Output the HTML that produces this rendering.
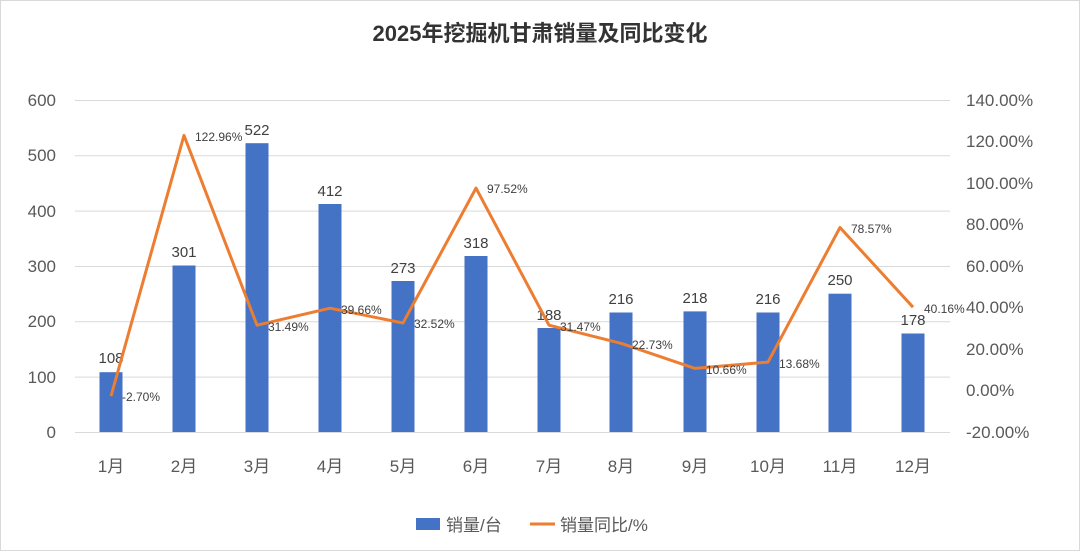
<!DOCTYPE html>
<html><head><meta charset="utf-8"><style>
html,body{margin:0;padding:0;background:#fff;}
svg{display:block;font-family:"Liberation Sans","Noto Sans CJK SC",sans-serif;}
</style></head><body>
<svg width="1080" height="551" viewBox="0 0 1080 551" xmlns="http://www.w3.org/2000/svg">
<rect x="0.5" y="0.5" width="1079" height="550" fill="#fff" stroke="#d9d9d9"/>
<text x="540" y="41" text-anchor="middle" font-size="22" font-weight="bold" fill="#333">2025年挖掘机甘肃销量及同比变化</text>
<g stroke="#d9d9d9" stroke-width="1">
<line x1="75" y1="100.5" x2="950" y2="100.5"/>
<line x1="75" y1="155.8" x2="950" y2="155.8"/>
<line x1="75" y1="211.1" x2="950" y2="211.1"/>
<line x1="75" y1="266.5" x2="950" y2="266.5"/>
<line x1="75" y1="321.8" x2="950" y2="321.8"/>
<line x1="75" y1="377.1" x2="950" y2="377.1"/>
<line x1="75" y1="432.5" x2="950" y2="432.5"/>
</g>
<g font-size="17" fill="#595959" text-anchor="end">
<text x="56" y="106">600</text><text x="56" y="161">500</text><text x="56" y="217">400</text>
<text x="56" y="272">300</text><text x="56" y="327">200</text><text x="56" y="383">100</text><text x="56" y="438">0</text>
</g>
<g font-size="17" fill="#595959" text-anchor="start">
<text x="966" y="106">140.00%</text><text x="966" y="147">120.00%</text><text x="966" y="189">100.00%</text>
<text x="966" y="230">80.00%</text><text x="966" y="272">60.00%</text><text x="966" y="313">40.00%</text>
<text x="966" y="355">20.00%</text><text x="966" y="396">0.00%</text><text x="966" y="438">-20.00%</text>
</g>
<g fill="#4472C4">
<rect x="99.5" y="372.2" width="23" height="59.8"/>
<rect x="172.5" y="265.5" width="23" height="166.5"/>
<rect x="245.5" y="143.2" width="23" height="288.8"/>
<rect x="318.5" y="204" width="23" height="228"/>
<rect x="391.5" y="281" width="23" height="151"/>
<rect x="464.5" y="256" width="23" height="176"/>
<rect x="537.5" y="328" width="23" height="104"/>
<rect x="609.5" y="312.5" width="23" height="119.5"/>
<rect x="683.5" y="311.4" width="23" height="120.6"/>
<rect x="756.5" y="312.5" width="23" height="119.5"/>
<rect x="828.5" y="293.7" width="23" height="138.3"/>
<rect x="901.5" y="333.5" width="23" height="98.5"/>
</g>
<g font-size="15" fill="#404040" text-anchor="middle">
<text x="111" y="363">108</text><text x="184" y="257">301</text><text x="257" y="135">522</text>
<text x="330" y="196">412</text><text x="403" y="273">273</text><text x="476" y="248">318</text>
<text x="549" y="320">188</text><text x="621" y="304">216</text><text x="695" y="303">218</text>
<text x="768" y="304">216</text><text x="840" y="285">250</text><text x="913" y="325">178</text>
</g>
<polyline fill="none" stroke="#ED7D31" stroke-width="3" stroke-linejoin="round" points="111,396.1 184,135.4 257,325.2 330,308.2 403,323 476,188.1 549,325.2 621,343.3 695,368.4 768,362.1 840,227.5 913,307.2"/>
<g font-size="12" fill="#404040">
<text x="122" y="401">-2.70%</text><text x="195" y="141">122.96%</text><text x="268" y="331">31.49%</text>
<text x="341" y="314">39.66%</text><text x="414" y="328">32.52%</text><text x="487" y="193">97.52%</text>
<text x="560" y="331">31.47%</text><text x="632" y="349">22.73%</text><text x="706" y="374">10.66%</text>
<text x="779" y="368">13.68%</text><text x="851" y="233">78.57%</text><text x="924" y="313">40.16%</text>
</g>
<g font-size="17" fill="#595959" text-anchor="middle">
<text x="111" y="472">1月</text><text x="184" y="472">2月</text><text x="257" y="472">3月</text>
<text x="330" y="472">4月</text><text x="403" y="472">5月</text><text x="476" y="472">6月</text>
<text x="549" y="472">7月</text><text x="621" y="472">8月</text><text x="695" y="472">9月</text>
<text x="768" y="472">10月</text><text x="840" y="472">11月</text><text x="913" y="472">12月</text>
</g>
<rect x="416" y="518" width="24" height="12" fill="#4472C4"/>
<text x="446" y="531" font-size="17" fill="#595959">销量/台</text>
<line x1="530" y1="524" x2="555" y2="524" stroke="#ED7D31" stroke-width="3"/>
<text x="560" y="531" font-size="17" fill="#595959">销量同比/%</text>
</svg>
</body></html>
